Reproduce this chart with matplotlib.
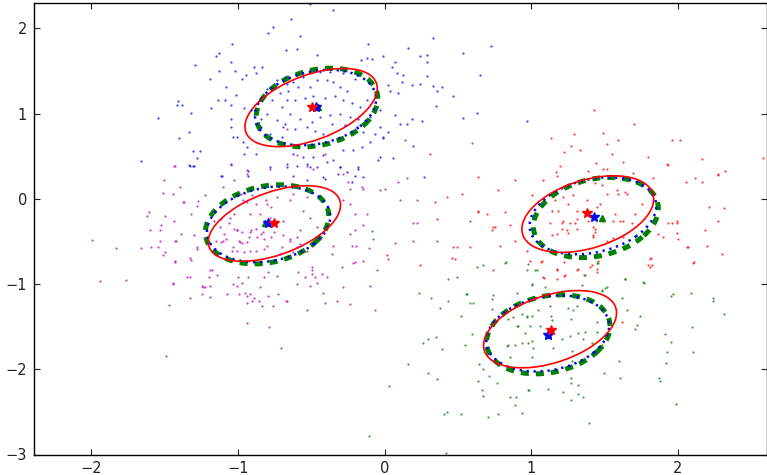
import numpy as np
import matplotlib
matplotlib.use("Agg")
import matplotlib.pyplot as plt
from matplotlib.patches import Ellipse

# sample points (data units)
blue_pts = [(-0.757, 2.02), (-0.794, 1.95), (-1.041, 1.81), (-1.127, 1.71), (-1.15, 1.67), (-1.289, 1.57),
            (-1.048, 1.60), (-1.125, 1.50), (-1.02, 1.50), (-1.19, 1.41), (-1.082, 1.31), (-1.01, 1.22),
            (-1.136, 1.16), (-1.084, 1.16), (-1.407, 1.15), (-1.411, 1.10), (-1.38, 1.10), (-1.184, 1.07),
            (-1.048, 1.10), (-1.541, 0.95), (-1.32, 1.01), (-1.048, 0.94), (-1.048, 0.84), (-1.398, 0.71),
            (-1.33, 0.78), (-1.034, 0.73), (-1.003, 0.72), (-0.962, 0.67), (-0.935, 0.61), (-1.302, 0.56),
            (-1.257, 0.56), (-1.275, 0.48), (-1.661, 0.44), (-1.332, 0.40), (-1.298, 0.38), (-0.957, 0.52),
            (-0.877, 0.53), (-0.889, 1.55), (-0.832, 1.55), (-0.877, 1.48), (-0.941, 1.45), (-0.969, 1.40),
            (-0.957, 1.06), (-0.911, 1.04), (-0.843, 0.94), (-0.843, 0.84), (-1.116, 0.27), (-1.048, 0.41),
            (-1.325, 0.39), (-1.302, 0.38), (-1.109, 0.27), (-0.928, 0.33), (-0.928, 0.27), (-0.78, 0.37),
            (-0.666, 0.41), (-0.53, 0.41), (-0.462, 0.37), (-0.405, 0.235), (-0.303, 0.37), (-0.178, 0.37),
            (-0.201, 0.27), (-0.507, 2.29), (-0.353, 2.22), (-0.639, 2.11), (-0.576, 1.91), (-0.671, 1.75),
            (-0.598, 1.76), (-0.458, 1.69), (-0.11, 1.81), (-0.16, 1.63), (-0.121, 1.65), (-0.087, 1.64),
            (-0.008, 1.67), (0.072, 1.61), (0.049, 1.55), (0.162, 1.77), (0.242, 1.67), (0.287, 1.69),
            (0.287, 1.61), (0.333, 1.89), (0.533, 1.71), (0.725, 1.79), (0.083, 1.47), (0.128, 1.45),
            (0.117, 1.37), (0.185, 1.33), (0.242, 1.35), (0.287, 1.44), (0.333, 1.32), (0.356, 1.27),
            (0.394, 1.31), (0.469, 1.20), (0.651, 1.45), (0.351, 1.09), (0.094, 1.24), (0.026, 1.33),
            (0.037, 1.27), (0.072, 0.98), (0.151, 0.88), (0.185, 0.94), (0.106, 0.88), (0.253, 0.91),
            (0.533, 0.95), (0.628, 1.01), (-0.008, 0.72), (0.026, 0.78), (0.192, 0.62), (-0.042, 0.45),
            (0.269, 0.26), (0.06, 0.48), (-0.678, 1.43), (-0.621, 1.37), (-0.587, 1.31), (-0.507, 1.31),
            (-0.462, 1.39), (-0.394, 1.39), (-0.349, 1.37), (-0.303, 1.31), (-0.257, 1.27), (-0.201, 1.41),
            (-0.281, 1.47), (-0.371, 1.49), (-0.439, 1.49), (-0.553, 1.43), (-0.655, 1.27), (-0.666, 1.16),
            (-0.61, 1.16), (-0.542, 1.18), (-0.485, 1.20), (-0.405, 1.18), (-0.337, 1.20), (-0.281, 1.16),
            (-0.223, 1.12), (-0.167, 1.08), (-0.121, 1.16), (-0.099, 0.96), (-0.178, 0.94), (-0.235, 0.96),
            (-0.303, 1.00), (-0.371, 0.98), (-0.439, 0.96), (-0.496, 0.90), (-0.576, 0.94), (-0.644, 1.00),
            (-0.678, 0.88), (-0.61, 0.82), (-0.53, 0.84), (-0.473, 0.80), (-0.417, 0.76), (-0.36, 0.88),
            (-0.269, 0.86), (-0.189, 0.84), (-0.144, 0.78), (-0.70, 0.72), (-0.621, 0.53), (-0.553, 0.49),
            (-0.485, 0.49), (-0.417, 0.51), (-0.349, 0.45), (-0.281, 0.57), (-0.213, 0.57), (-0.155, 0.61),
            (-0.099, 0.67), (-0.065, 0.76), (-0.031, 0.49), (-0.666, 0.37), (-0.598, 0.39), (-0.507, 0.37),
            (-0.394, 0.43), (-0.315, 0.29), (-0.257, 0.31), (-0.178, 0.35), (-0.144, 0.25), (-0.223, 0.20),
            (-0.417, 0.25), (-0.621, 0.27), (-0.53, 0.22), (-0.303, 0.37), (-0.031, 0.84), (-0.031, 1.04),
            (-0.008, 0.71), (-0.848, 1.16), (-0.768, 1.16), (-0.712, 1.24), (-0.70, 1.08), (-0.802, 1.00),
            (-0.734, 0.92), (-0.689, 0.84), (-0.734, 1.39), (-0.802, 1.29), (-0.666, 1.35), (-0.78, 0.76),
            (0.969, 0.91)]

magenta_pts = [(-1.434, 0.38), (-1.502, 0.22), (-1.507, 0.07), (-1.439, 0.06), (-1.366, -0.04), (-1.27, -0.03),
               (-1.225, 0.05), (-1.604, -0.15), (-1.616, -0.20), (-1.495, -0.20), (-1.434, -0.26), (-1.32, -0.18),
               (-1.525, -0.31), (-0.935, 0.34), (-0.935, 0.29), (-1.025, 0.22), (-1.098, 0.14), (-0.98, 0.06),
               (-0.90, 0.04), (-0.935, -0.04), (-0.877, -0.06), (-0.809, -0.02), (-1.161, -0.26), (-1.116, -0.24),
               (-1.025, -0.18), (-1.059, -0.28), (-0.73, 0.02), (-0.771, -0.10), (-1.99, -0.48), (-1.827, -0.58),
               (-1.938, -0.97), (-1.763, -0.95), (-1.661, -0.58), (-1.593, -0.57), (-1.543, -0.57), (-1.529, -0.50),
               (-1.507, -0.66), (-1.422, -0.49), (-1.388, -0.41), (-1.429, -0.74), (-1.441, -0.99), (-1.468, -1.25),
               (-1.488, -1.85), (-1.325, -0.69), (-1.32, -0.72), (-1.327, -0.92), (-1.325, -1.16), (-1.275, -0.57),
               (-1.298, -0.43), (-1.241, -1.02), (-1.225, -1.03), (-1.241, -1.12), (-1.195, -0.92), (-1.189, -1.15),
               (-1.173, -0.84), (-1.15, -0.49), (-1.116, -0.51), (-1.082, -0.47), (-1.093, -0.41), (-0.991, -0.49),
               (-0.969, -0.52), (-0.935, -0.51), (-0.923, -0.45), (-1.025, -0.35), (-1.003, -0.37), (-0.969, -0.39),
               (-1.037, -0.61), (-1.003, -0.61), (-0.957, -0.63), (-0.877, -0.61), (-0.821, -0.59), (-0.996, -0.92),
               (-1.032, -1.00), (-0.969, -0.99), (-0.991, -1.12), (-0.952, -1.10), (-0.935, -1.14), (-0.889, -1.16),
               (-0.855, -1.20), (-0.832, -1.26), (-0.76, -1.26), (-0.792, -1.14), (-0.821, -0.92), (-0.794, -0.86),
               (-0.734, -0.91), (-0.935, -1.46), (-0.787, -1.51), (-0.707, -1.75), (-0.911, -0.37), (-0.877, -0.35),
               (-0.843, -0.41), (-0.821, -0.47), (-0.775, -0.45), (-0.753, -0.39), (-1.427, 0.38), (-1.048, 0.40),
               (-0.281, 0.29), (-0.235, 0.12), (-0.144, 0.12), (-1.393, 0.14), (-1.37, -0.04), (-1.279, -0.08),
               (-1.597, -0.37), (-1.529, -0.37), (-1.427, -0.49), (-1.495, -0.63), (-1.427, -0.73), (-1.279, -0.59),
               (-1.189, -0.84), (-1.143, -0.90), (-1.347, -0.92), (-1.439, -1.00), (-1.234, -1.04), (-1.189, -1.02),
               (-1.075, -1.12), (-1.007, -1.02), (-0.928, -0.92), (-0.848, -1.04), (-0.916, -1.12), (-0.939, -1.22),
               (-0.905, -1.20), (-0.723, -1.12), (-0.666, -1.20), (-0.598, -1.00), (-0.496, -0.80), (-0.492, -0.84),
               (-0.496, -0.88), (-0.394, -0.92), (-0.292, -0.80), (-0.281, -1.04), (-0.235, -1.24), (-0.213, -0.75),
               (-0.144, -0.73), (-0.201, -0.18), (-0.144, -0.31), (-0.235, -0.41), (-0.235, -0.06), (-0.281, -0.02),
               (-1.098, -0.49), (-1.007, -0.37), (-0.984, -0.51), (-0.916, -0.39), (-0.871, -0.45), (-0.826, -0.39),
               (-0.848, -0.18), (-0.78, -0.22), (-0.689, -0.26), (-0.644, -0.49), (-0.70, -0.57), (-0.576, -0.37),
               (-0.553, -0.14), (-0.507, -0.22), (-0.462, -0.33), (-0.439, -0.47), (-0.644, -0.02), (-0.621, 0.06),
               (-0.53, 0.02), (-0.802, -0.06), (-0.962, -0.02), (-0.916, -0.18), (-1.052, -0.22), (-1.121, -0.33),
               (-1.03, -0.57), (-0.916, -0.61), (-0.802, -0.55), (-0.712, -0.65), (-0.598, -0.57), (-0.53, -0.61),
               (-0.689, -0.43), (-0.644, -0.47), (-0.598, -0.45), (-0.576, -0.53), (-0.621, -0.63), (-0.587, -0.86),
               (-0.542, -0.92), (-0.473, -0.92), (-0.428, -0.88), (-0.507, -1.02), (-0.462, -0.99), (-0.421, -1.10),
               (-0.405, -1.22), (-0.53, -1.31), (-0.671, -1.20), (-0.321, -1.20), (-0.36, -0.65), (-0.349, -0.55),
               (-0.223, -0.55), (-0.194, -0.55), (-0.201, -0.37), (-0.201, -0.74), (-0.104, -0.58), (-0.099, -1.02),
               (-0.053, -0.84), (-0.065, -1.30), (0.072, -0.52), (0.196, -0.49), (-0.247, 0.20), (-0.155, 0.14),
               (-0.485, 0.35), (0.094, 0.20), (0.156, 0.24), (0.106, -0.02), (0.219, -0.02), (-0.031, 0.10),
               (0.003, 0.12), (-0.121, -0.18), (0.196, -0.28), (0.219, -0.29), (-0.666, 0.82), (-0.598, 0.51),
               (-0.405, 0.53), (0.14, 0.69), (-0.78, 0.35), (-0.53, 0.39), (0.594, 0.65), (0.582, -0.26),
               (0.787, -0.55), (0.492, -0.92)]

red_pts = [(0.31, 0.52), (0.639, 0.26), (0.889, 0.22), (0.775, 0.10), (0.639, -0.15), (0.696, -0.18),
           (0.821, -0.15), (0.424, 0.02), (0.344, -0.04), (0.526, 0.06), (0.356, -0.24), (0.741, -0.33),
           (0.855, -0.31), (1.429, 1.04), (1.70, 0.88), (1.134, 0.71), (1.291, 0.76), (1.49, 0.77),
           (1.593, 0.69), (1.518, 0.64), (1.268, 0.62), (1.332, 0.57), (1.223, 0.55), (1.548, 0.53),
           (1.956, 0.69), (2.013, 0.69), (1.797, 0.49), (1.441, 0.42), (1.49, 0.35), (1.513, 0.35),
           (1.623, 0.43), (1.198, 0.39), (1.168, 0.31), (1.173, 0.27), (1.388, 0.33), (1.604, 0.27),
           (1.695, 0.30), (1.929, 0.40), (2.161, 0.47), (2.58, 0.48), (2.054, 0.20), (2.115, 0.24),
           (2.161, 0.20), (2.27, 0.28), (2.32, 0.33), (1.082, 0.22), (1.831, 0.24), (1.003, 0.05),
           (2.213, -0.10), (2.313, -0.11), (2.27, -0.26), (1.218, 0.02), (1.286, 0.04), (1.252, -0.06),
           (1.184, -0.14), (1.309, -0.14), (1.377, -0.02), (1.468, -0.06), (1.48, 0.16), (1.434, 0.18),
           (1.593, 0.06), (1.638, 0.08), (1.57, -0.18), (1.604, -0.26), (1.706, -0.18), (1.752, -0.06),
           (1.49, -0.26), (1.388, -0.26), (1.298, -0.29), (1.207, -0.28), (1.139, -0.14), (1.161, -0.02),
           (1.956, -0.28), (1.99, -0.26), (0.458, -0.69), (0.48, -0.71), (0.492, -0.57), (0.582, -0.57),
           (0.639, -0.14), (0.73, -0.37), (0.753, -0.33), (0.889, -0.49), (0.969, -0.61), (0.991, -0.73),
           (1.071, -0.73), (1.173, -0.82), (1.082, -0.92), (1.23, -0.90), (1.32, -0.82), (1.40, -0.80),
           (1.445, -0.82), (1.173, -0.94), (1.809, -0.71), (1.82, -0.78), (1.899, -0.45), (1.933, -0.29),
           (1.99, -0.29), (2.059, -0.57), (2.104, -0.75), (2.183, -0.37), (2.297, -0.65), (1.922, 0.41),
           (2.274, 0.29), (1.218, -0.26), (1.309, -0.24), (1.264, -0.28), (1.422, -0.33), (1.434, -0.39),
           (1.559, -0.26), (1.627, -0.26), (1.65, 0.06), (1.582, 0.10), (1.513, 0.06), (1.445, -0.10),
           (1.173, -0.41), (1.241, -0.37), (1.127, -0.29), (1.422, -0.45), (1.513, -0.49), (1.627, -0.45),
           (1.684, -0.29), (0.026, -0.71), (0.015, -0.66), (0.242, -0.78), (0.469, -0.57), (0.741, -0.84),
           (1.139, -0.42), (1.211, -0.36), (1.252, -0.40), (1.313, -0.35), (1.434, -0.35), (1.422, -0.43),
           (1.559, -0.46), (1.865, -0.41), (1.99, -0.40), (1.997, -0.47), (2.07, -0.57), (2.199, -0.55),
           (1.815, -0.70), (1.797, -0.78), (1.809, -0.80), (2.11, -0.74), (1.066, -0.74), (1.173, -0.84),
           (1.225, -0.74), (1.309, -0.84), (1.361, -0.89), (1.411, -0.78), (1.452, -0.73), (1.445, -0.86),
           (1.089, -0.93), (1.225, -0.91), (1.616, -1.44)]

green_pts = [(0.628, -0.80), (0.673, -0.78), (0.821, -0.75), (0.969, -0.84), (1.025, -0.84), (1.366, -0.90),
             (1.445, -0.75), (1.638, -0.94), (1.763, -0.98), (1.513, -1.04), (1.48, -1.08), (1.003, -1.00),
             (0.56, -1.12), (0.741, -1.13), (0.90, -1.10), (1.967, -1.12), (2.24, -1.16), (-0.083, -0.38),
             (-0.076, -0.47), (0.356, -0.50), (0.826, -0.74), (0.435, -0.94), (0.237, -1.10), (0.315, -1.16),
             (0.378, -1.28), (0.435, -1.20), (0.555, -1.12), (0.582, -1.22), (0.605, -1.22), (0.519, -1.37),
             (0.73, -1.18), (0.594, -1.59), (0.548, -1.71), (0.264, -1.69), (0.298, -1.64), (0.351, -1.62),
             (0.39, -1.76), (0.162, -1.94), (0.298, -2.04), (0.36, -2.12), (0.033, -2.20), (0.646, -1.94),
             (0.673, -2.00), (0.714, -2.08), (0.639, -2.14), (0.662, -2.24), (0.669, -2.31), (0.768, -2.16),
             (0.855, -2.32), (0.896, -2.32), (0.891, -2.42), (0.935, -2.51), (0.707, -2.56), (0.775, -2.52),
             (0.521, -2.52), (0.408, -2.53), (0.424, -2.50), (-0.104, -2.78), (0.98, -2.24), (0.73, -1.29),
             (0.843, -1.41), (0.877, -1.39), (0.935, -1.35), (0.843, -1.71), (0.889, -1.71), (0.935, -1.69),
             (0.98, -1.69), (0.957, -1.57), (0.911, -1.49), (0.969, -1.37), (0.98, -0.76), (1.037, -0.84),
             (1.007, -1.01), (1.093, -1.04), (1.184, -1.14), (1.207, -1.08), (1.343, -1.01), (1.457, -0.75),
             (1.48, -1.07), (1.502, -1.05), (1.638, -0.94), (1.77, -0.99), (1.62, -1.16), (1.65, -1.31),
             (1.74, -1.37), (1.718, -1.48), (1.706, -1.53), (1.952, -1.14), (2.088, -1.11), (2.24, -1.20),
             (2.315, -1.35), (1.911, -1.59), (1.95, -1.68), (1.922, -1.80), (1.918, -1.93), (2.093, -1.50),
             (2.104, -1.80), (1.60, -1.90), (1.604, -2.10), (1.497, -2.04), (1.87, -2.10), (1.877, -2.14),
             (1.986, -2.41), (1.395, -2.63), (0.984, -2.24), (1.112, -2.23), (1.218, -2.27), (1.27, -2.36),
             (1.354, -2.32), (1.32, -2.29), (1.27, -2.10), (1.27, -2.16), (1.32, -2.19), (1.003, -1.37),
             (1.048, -1.31), (1.127, -1.26), (1.134, -1.37), (1.139, -1.42), (1.252, -1.28), (1.286, -1.31),
             (1.309, -1.26), (1.27, -1.41), (1.264, -1.61), (1.32, -1.57), (1.366, -1.56), (1.445, -1.56),
             (0.991, -1.49), (1.003, -1.67), (1.014, -1.75), (1.059, -1.49), (1.15, -1.75), (1.275, -1.78),
             (1.207, -1.65), (1.354, -1.65), (1.411, -1.69), (1.502, -1.61), (1.445, -1.45), (1.48, -1.71),
             (1.275, -1.90), (0.969, -1.39), (0.90, -1.49), (0.832, -1.73), (1.003, -1.86), (0.855, -1.86),
             (0.42, -2.98)]

# ellipse parameters per cluster: centre, width, height, angle (deg)
fit_centres = [(-0.50, 1.07), (-0.75, -0.29), (1.385, -0.18), (1.128, -1.53)]
fit_sizes = [(1.11, 0.65, 46), (1.09, 0.64, 44), (1.06, 0.70, 45), (1.08, 0.69, 45)]
true_centres = [(-0.46, 1.07), (-0.80, -0.30), (1.44, -0.22), (1.116, -1.59)]
true_sizes = [(0.98, 0.76, 58), (0.98, 0.78, 58), (1.00, 0.78, 57), (0.98, 0.78, 58)]
est_centres = [(-0.47, 1.07), (-0.79, -0.30), (1.42, -0.20), (1.112, -1.58)]
est_sizes = [(0.95, 0.75, 54), (0.95, 0.77, 53), (0.99, 0.76, 50), (0.95, 0.77, 54)]

# cluster centre markers
red_star = [(-0.496, 1.08), (-0.753, -0.29), (1.382, -0.17), (1.132, -1.54)]
blue_star = [(-0.469, 1.08), (-0.791, -0.29), (1.427, -0.21), (1.112, -1.60)]
green_tri = [(-0.45, 1.08), (-0.814, -0.29), (1.48, -0.23), (1.112, -1.60)]

fig = plt.figure(figsize=(7.67, 4.75), dpi=100)
ax = fig.add_axes([34 / 767, 20.5 / 475, 733 / 767, 451.8 / 475])

for pts, c in [(blue_pts, 'b'), (magenta_pts, 'm'), (red_pts, 'r'), (green_pts, 'g')]:
    p = np.array(pts)
    ax.plot(p[:, 0], p[:, 1], '.', color=c, ms=3.2, alpha=0.75, mec='none')

for (cx, cy), (w, h, a) in zip(true_centres, true_sizes):
    ax.add_patch(Ellipse((cx, cy), w, h, angle=a, fill=False, ec='g', lw=3.6,
                         ls=(0, (1.6, 1.4))))
for (cx, cy), (w, h, a) in zip(est_centres, est_sizes):
    ax.add_patch(Ellipse((cx, cy), w, h, angle=a, fill=False, ec='b', lw=1.8,
                         ls=(0, (0.9, 1.9))))
for (cx, cy), (w, h, a) in zip(fit_centres, fit_sizes):
    ax.add_patch(Ellipse((cx, cy), w, h, angle=a, fill=False, ec='r', lw=1.2))

g = np.array(green_tri)
b = np.array(blue_star)
r = np.array(red_star)
ax.plot(g[:, 0], g[:, 1], 'g^', ms=5, mec='g')
ax.plot(b[:, 0], b[:, 1], 'b*', ms=7, mec='b')
ax.plot(r[:, 0], r[:, 1], 'r*', ms=7, mec='r')

ax.set_xlim(-2.388, 2.606)
ax.set_ylim(-3, 2.3)
ax.set_xticks([-2, -1, 0, 1, 2])
ax.set_yticks([-3, -2, -1, 0, 1, 2])
ax.set_xticklabels(['\u22122', '\u22121', '0', '1', '2'])
ax.set_yticklabels(['\u22123', '\u22122', '\u22121', '0', '1', '2'])
ax.tick_params(direction='in', top=True, right=True, length=4, width=0.8,
               labelsize=10.5, colors='#222222', pad=5)
for s in ax.spines.values():
    s.set_linewidth(1.0)

fig.savefig('out.png', dpi=100)
